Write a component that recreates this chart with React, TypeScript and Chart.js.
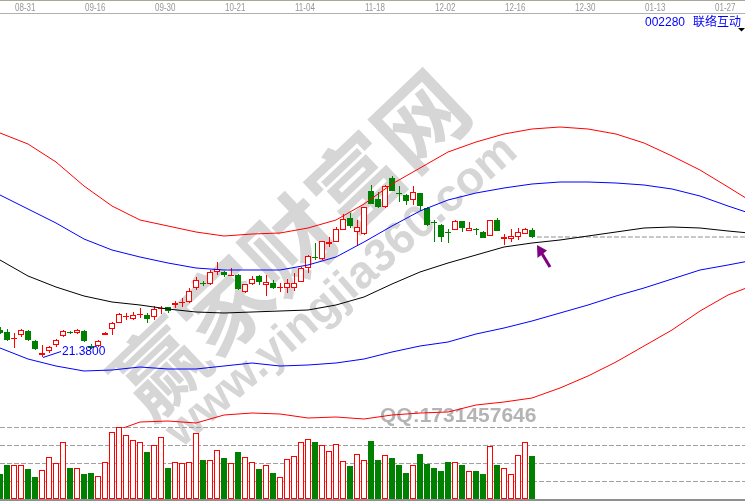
import React, { useEffect, useRef } from 'react';
import { Chart, registerables } from 'chart.js';

Chart.register(...registerables);

// Daily K-line, index 0 = first visible session
const opens = [
  24.08, 23.88, 23.18, 23.58, 23.98, 22.98, 21.58, 21.98, 22.58, 23.48,
  23.88, 23.78, 23.98, 22.48, 22.48, 23.58, 24.18, 24.78, 25.38, 25.18,
  25.58, 25.58, 25.38, 26.18, 26.38, 26.58, 26.78, 26.88, 28.28, 28.78,
  28.68, 29.88, 29.88, 29.48, 29.58, 27.88, 28.68, 29.48, 28.58, 28.78,
  28.28, 28.28, 28.28, 28.88, 30.28, 31.38, 31.18, 32.68, 32.88, 34.08,
  35.28, 33.88, 33.68, 37.98, 37.18, 36.38, 39.28, 37.78, 37.58, 37.08,
  37.78, 36.28, 34.88, 34.58, 33.88, 34.08, 34.98, 33.98, 34.18, 33.88,
  33.48, 35.08, 33.18, 33.18, 33.38, 33.68, 34.08,
];
const highs = [
  24.38, 24.18, 23.78, 24.18, 24.08, 23.08, 22.58, 22.48, 23.18, 24.08,
  23.98, 24.18, 24.08, 22.68, 23.08, 23.88, 24.88, 25.78, 25.78, 25.88,
  26.28, 25.78, 26.48, 26.48, 26.38, 26.98, 27.28, 28.28, 29.38, 28.98,
  30.08, 30.88, 29.98, 30.28, 29.68, 28.68, 29.48, 29.58, 29.58, 29.08,
  28.78, 29.18, 29.78, 30.38, 31.58, 32.78, 32.98, 33.38, 34.38, 35.68,
  35.78, 35.08, 36.38, 38.58, 37.88, 38.58, 39.48, 38.48, 37.68, 38.48,
  37.78, 36.38, 35.08, 34.68, 34.18, 35.08, 34.98, 34.88, 34.28, 33.98,
  35.08, 35.28, 33.68, 34.18, 34.28, 34.28, 34.28,
];
const lows = [
  23.68, 22.98, 22.28, 23.38, 22.98, 22.08, 21.38, 21.78, 22.38, 23.38,
  23.68, 23.68, 22.88, 22.18, 22.38, 23.58, 23.58, 24.78, 25.08, 25.08,
  25.28, 24.78, 25.08, 25.68, 25.78, 26.28, 26.38, 26.78, 28.08, 28.48,
  28.58, 29.58, 29.38, 29.48, 28.08, 27.78, 28.58, 28.58, 27.48, 28.18,
  27.88, 27.78, 27.98, 28.88, 29.78, 31.08, 31.08, 32.38, 32.88, 34.08,
  34.28, 32.58, 33.58, 36.68, 36.28, 36.28, 37.98, 36.88, 36.58, 36.58,
  35.98, 34.48, 32.88, 32.88, 32.78, 34.08, 33.88, 33.98, 33.58, 33.28,
  33.48, 33.98, 32.58, 32.88, 33.08, 33.68, 33.28,
];
const closes = [
  23.78, 23.08, 23.28, 24.08, 23.08, 22.18, 21.78, 22.38, 23.08, 23.98,
  23.78, 24.08, 22.98, 22.28, 22.98, 23.78, 24.78, 25.68, 25.48, 25.58,
  25.68, 25.18, 26.18, 26.28, 25.98, 26.78, 26.88, 27.98, 29.08, 28.68,
  29.88, 30.18, 29.58, 29.58, 28.18, 28.68, 29.18, 28.88, 28.88, 28.28,
  28.38, 28.78, 28.78, 30.28, 31.48, 31.28, 32.98, 32.88, 34.18, 35.18,
  34.48, 34.38, 36.38, 36.68, 36.38, 38.48, 37.98, 37.68, 36.98, 37.88,
  36.48, 34.58, 34.78, 33.38, 33.78, 34.98, 34.28, 34.28, 34.08, 33.28,
  35.08, 33.98, 33.38, 33.48, 33.88, 34.18, 33.38,
];
// Volume, 万手
const volumes = [
  6.94, 9.44, 9.44, 9.44, 8.33, 6.11, 8.06, 11.67, 10.0, 15.83,
  8.61, 8.61, 6.94, 7.22, 6.39, 10.28, 18.61, 20.0, 17.78, 16.39,
  15.83, 13.06, 15.0, 17.22, 8.61, 10.28, 10.0, 10.28, 18.33, 10.83,
  10.83, 13.61, 11.39, 10.0, 13.06, 11.67, 10.28, 8.33, 9.44, 7.22,
  6.11, 11.11, 11.94, 15.83, 16.67, 15.83, 15.0, 13.33, 15.28, 10.56,
  9.17, 12.5, 10.83, 16.11, 10.83, 12.22, 11.39, 9.44, 7.22, 9.44,
  12.5, 9.72, 8.61, 7.78, 10.28, 10.28, 9.44, 7.78, 7.78, 6.94,
  14.72, 9.44, 8.61, 6.94, 12.22, 15.83, 11.94,
];

// Date axis: session index -> label
const dateTicks = [2, 12, 22, 32, 42, 52, 62, 72, 82, 92, 102];
const dateLabels = ['08-31', '09-16', '09-30', '10-21', '11-04', '11-18', '12-02', '12-16', '12-30', '01-13', '01-27'];

// Band curves (projected past the last session)
const bandX = [0, 4, 8, 12, 16, 20, 24, 28, 32, 36, 40, 44, 48, 52, 56, 60, 64, 68, 72, 76, 80, 84, 88, 92, 96, 100, 104, 107];
const bandUpperRed = [
  43.78, 42.68, 40.88, 38.48, 36.48, 35.08, 34.48, 33.88, 33.48, 33.68,
  33.78, 34.28, 35.08, 36.68, 38.68, 40.28, 41.88, 42.88, 43.68, 44.18,
  44.38, 44.18, 43.68, 42.78, 41.48, 40.08, 38.38, 37.08,
];
const bandUpperBlue = [
  37.58, 36.18, 34.78, 33.18, 32.08, 31.38, 30.78, 30.28, 30.08, 30.08,
  30.08, 30.58, 31.38, 32.88, 34.48, 35.98, 37.08, 37.78, 38.28, 38.68,
  38.88, 38.88, 38.78, 38.58, 38.18, 37.48, 36.48, 35.78,
];
const bandMiddle = [
  31.08, 29.48, 28.38, 27.48, 26.88, 26.58, 26.18, 25.88, 25.78, 25.88,
  25.98, 26.08, 26.58, 27.38, 28.68, 29.88, 30.78, 31.58, 32.38, 32.78,
  33.08, 33.48, 33.88, 34.28, 34.38, 34.28, 33.98, 33.78,
];
const bandLowerBlue = [
  22.28, 21.18, 20.48, 19.98, 20.08, 20.38, 20.18, 20.18, 20.48, 20.78,
  20.48, 20.58, 20.78, 21.18, 21.88, 22.48, 22.88, 23.68, 24.28, 24.98,
  25.78, 26.58, 27.48, 28.28, 29.18, 30.08, 30.58, 30.98,
];
const bandLowerRedX = [16, 20, 24, 28, 32, 36, 40, 44, 48, 52, 56, 60, 64, 68, 72, 76, 80, 84, 88, 92, 96, 100, 104, 107];
const bandLowerRed = [
  13.88, 14.88, 14.98, 14.78, 15.58, 15.78, 15.68, 15.28, 15.38, 15.18,
  15.58, 15.78, 15.88, 16.58, 16.88, 17.28, 18.28, 19.48, 20.88, 22.48,
  24.08, 25.98, 27.58, 28.38,
];

const volumeGuides = [5, 10, 15, 20];
const stockCode = '002280';
const stockName = '联络互动';
const markTitle = '赢家财富网';
const markSite = 'www.yingjia360.com';
const markQQ = 'QQ:1731457646';

const W = 745;
const H = 501;
const STEP = 7; // px per session
const PRICE_MIN = 6.98;
const PRICE_MAX = 57.08;
const VOL_PX = 3.6; // px per volume unit
const VOL_BASE_Y = 499;
const VOL_MIN = -(H - VOL_BASE_Y) / VOL_PX;
const VOL_MAX = VOL_MIN + H / VOL_PX;

const RED = '#ff0000';
const GREEN = '#008000';
const BLUE = '#0000ff';

const priceClip = { left: 0, top: -14, right: 0, bottom: -73 };

const chromePlugin = {
  id: 'kchrome',
  beforeDatasetsDraw(chart: any) {
    const ctx: CanvasRenderingContext2D = chart.ctx;
    const yv = chart.scales.yv;

    // watermark
    ctx.save();
    ctx.fillStyle = '#d6d6d6';
    ctx.textAlign = 'center';
    ctx.textBaseline = 'middle';
    ctx.translate(290, 244);
    ctx.rotate((-43.5 * Math.PI) / 180);
    ctx.font = 'bold 90px "Noto Sans CJK SC", sans-serif';
    ctx.fillText(markTitle, 0, 0);
    ctx.restore();

    ctx.save();
    ctx.fillStyle = '#d6d6d6';
    ctx.textAlign = 'center';
    ctx.textBaseline = 'middle';
    ctx.translate(342, 292);
    ctx.rotate((-41 * Math.PI) / 180);
    ctx.font = 'bold 46px "Liberation Sans", Arial, sans-serif';
    ctx.fillText(markSite, 0, 0);
    ctx.restore();

    ctx.save();
    ctx.fillStyle = '#b4b4b4';
    ctx.font = 'bold 21px "Liberation Sans", Arial, sans-serif';
    ctx.textBaseline = 'alphabetic';
    ctx.fillText(markQQ, 380, 422);
    ctx.restore();

    // volume guide lines
    ctx.save();
    ctx.strokeStyle = '#a0a0a0';
    ctx.lineWidth = 1;
    ctx.setLineDash([5, 2]);
    for (const v of volumeGuides) {
      const y = Math.round(yv.getPixelForValue(v)) + 0.5;
      ctx.beginPath();
      ctx.moveTo(0, y);
      ctx.lineTo(W, y);
      ctx.stroke();
    }
    ctx.restore();
  },
  afterDatasetsDraw(chart: any) {
    const ctx: CanvasRenderingContext2D = chart.ctx;
    const x = chart.scales.x;
    const y = chart.scales.y;

    ctx.save();
    // date strip
    ctx.fillStyle = '#ffffff';
    ctx.fillRect(0, 0, W, 13);
    ctx.fillStyle = '#aaa698';
    ctx.fillRect(0, 0, W, 1);
    ctx.fillStyle = '#b0b0b0';
    ctx.fillRect(0, 13, W, 1);
    ctx.fillStyle = '#969696';
    ctx.font = '10px "Liberation Sans", Arial, sans-serif';
    ctx.textBaseline = 'alphabetic';
    ctx.textAlign = 'left';
    dateTicks.forEach((t, k) => {
      const px = Math.round(x.getPixelForValue(t)) + 1;
      ctx.save();
      ctx.translate(px, 11);
      ctx.scale(0.8, 1);
      ctx.fillText(dateLabels[k], 0, 0);
      ctx.restore();
    });

    // bottom rule
    ctx.fillStyle = '#909090';
    ctx.fillRect(0, VOL_BASE_Y, W, H - VOL_BASE_Y);

    // title
    ctx.fillStyle = BLUE;
    ctx.font = '12px "Liberation Sans", Arial, sans-serif';
    ctx.fillText(stockCode, 645, 26);
    ctx.font = '12px "Noto Sans CJK SC", sans-serif';
    ctx.fillText(stockName, 693, 26);
    ctx.fillStyle = '#000000';
    ctx.beginPath();
    ctx.moveTo(738, 28);
    ctx.lineTo(745, 28);
    ctx.lineTo(741.5, 31.5);
    ctx.closePath();
    ctx.fill();

    // lowest low marker
    let li = 0;
    lows.forEach((v, i) => { if (v < lows[li]) li = i; });
    const lx = Math.round(x.getPixelForValue(li));
    const ly = Math.round(y.getPixelForValue(lows[li]));
    ctx.strokeStyle = BLUE;
    ctx.lineWidth = 1;
    ctx.beginPath();
    ctx.moveTo(lx + 1, ly + 0.5);
    ctx.lineTo(lx + 19, ly - 5.5);
    ctx.stroke();
    ctx.fillStyle = BLUE;
    ctx.font = '12px "Liberation Sans", Arial, sans-serif';
    ctx.fillText(lows[li].toFixed(4), lx + 20, ly - 2);

    // arrow at the latest session
    const n = closes.length - 1;
    const ax = Math.round(x.getPixelForValue(n)) + 5;
    const ay = Math.round(y.getPixelForValue(lows[n])) + 7;
    ctx.fillStyle = '#800080';
    ctx.strokeStyle = '#800080';
    ctx.beginPath();
    ctx.moveTo(ax, ay);
    ctx.lineTo(ax + 0.5, ay + 13);
    ctx.lineTo(ax + 10, ay + 5.5);
    ctx.closePath();
    ctx.fill();
    ctx.lineWidth = 3;
    ctx.beginPath();
    ctx.moveTo(ax + 4, ay + 7);
    ctx.lineTo(ax + 13, ay + 22);
    ctx.stroke();
    ctx.restore();
  },
};

export default function App() {
  const canvasRef = useRef<HTMLCanvasElement | null>(null);

  useEffect(() => {
    document.body.style.margin = '0';
    const canvas = canvasRef.current;
    if (!canvas) return;

    const idx = opens.map((_, i) => i);
    const up = idx.map((i) => closes[i] >= opens[i]);
    const last = closes.length - 1;

    const band = (xs: number[], ys: number[], color: string) => ({
      type: 'line' as const,
      xAxisID: 'x',
      yAxisID: 'y',
      data: xs.map((v, k) => ({ x: v, y: ys[k] })),
      borderColor: color,
      borderWidth: 1,
      pointRadius: 0,
      tension: 0,
      fill: false,
      clip: priceClip,
    });

    const chart = new Chart(canvas, {
      type: 'bar',
      data: {
        datasets: [
          band(bandX, bandUpperRed, RED),
          band(bandX, bandUpperBlue, BLUE),
          band(bandX, bandMiddle, '#000000'),
          band(bandX, bandLowerBlue, BLUE),
          band(bandLowerRedX, bandLowerRed, RED),
          {
            type: 'line',
            xAxisID: 'x',
            yAxisID: 'y',
            data: [
              { x: last + 0.7, y: closes[last] },
              { x: 107, y: closes[last] },
            ],
            borderColor: '#909090',
            borderWidth: 1,
            borderDash: [5, 2],
            pointRadius: 0,
            fill: false,
            clip: priceClip,
          },
          {
            type: 'bar',
            xAxisID: 'x',
            yAxisID: 'y',
            data: idx.map((i) => ({ x: i, y: [opens[i], closes[i]] })),
            backgroundColor: idx.map((i) => (up[i] ? '#ffffff' : GREEN)),
            borderColor: idx.map((i) => (up[i] ? RED : GREEN)),
            borderWidth: 1,
            borderSkipped: false,
            barThickness: 6,
            grouped: false,
            inflateAmount: 0,
            clip: priceClip,
          },
          {
            type: 'bar',
            xAxisID: 'xw',
            yAxisID: 'y',
            data: idx.map((i) => ({ x: i, y: [lows[i], highs[i]] })),
            backgroundColor: idx.map((i) => (up[i] ? RED : GREEN)),
            borderWidth: 0,
            barThickness: 1,
            grouped: false,
            inflateAmount: 0,
            clip: priceClip,
          },
          {
            type: 'bar',
            xAxisID: 'x',
            yAxisID: 'yv',
            data: idx.map((i) => ({ x: i, y: volumes[i] })),
            backgroundColor: idx.map((i) => (up[i] ? '#ffffff' : GREEN)),
            borderColor: idx.map((i) => (up[i] ? RED : GREEN)),
            borderWidth: 1,
            borderSkipped: false,
            barThickness: 6,
            grouped: false,
            inflateAmount: 0,
          },
        ] as any,
      },
      options: {
        responsive: false,
        animation: false,
        devicePixelRatio: 1,
        events: [],
        layout: { padding: 0 },
        plugins: { legend: { display: false }, tooltip: { enabled: false } },
        scales: {
          x: { type: 'linear', display: false, offset: false, min: 0, max: W / STEP },
          xw: {
            type: 'linear',
            display: false,
            offset: false,
            min: -0.5 / STEP,
            max: W / STEP - 0.5 / STEP,
          },
          y: { type: 'linear', display: false, min: PRICE_MIN, max: PRICE_MAX },
          yv: { type: 'linear', display: false, min: VOL_MIN, max: VOL_MAX },
        },
      } as any,
      plugins: [chromePlugin],
    });

    return () => chart.destroy();
  }, []);

  return <canvas ref={canvasRef} width={W} height={H} style={{ display: 'block' }} />;
}
